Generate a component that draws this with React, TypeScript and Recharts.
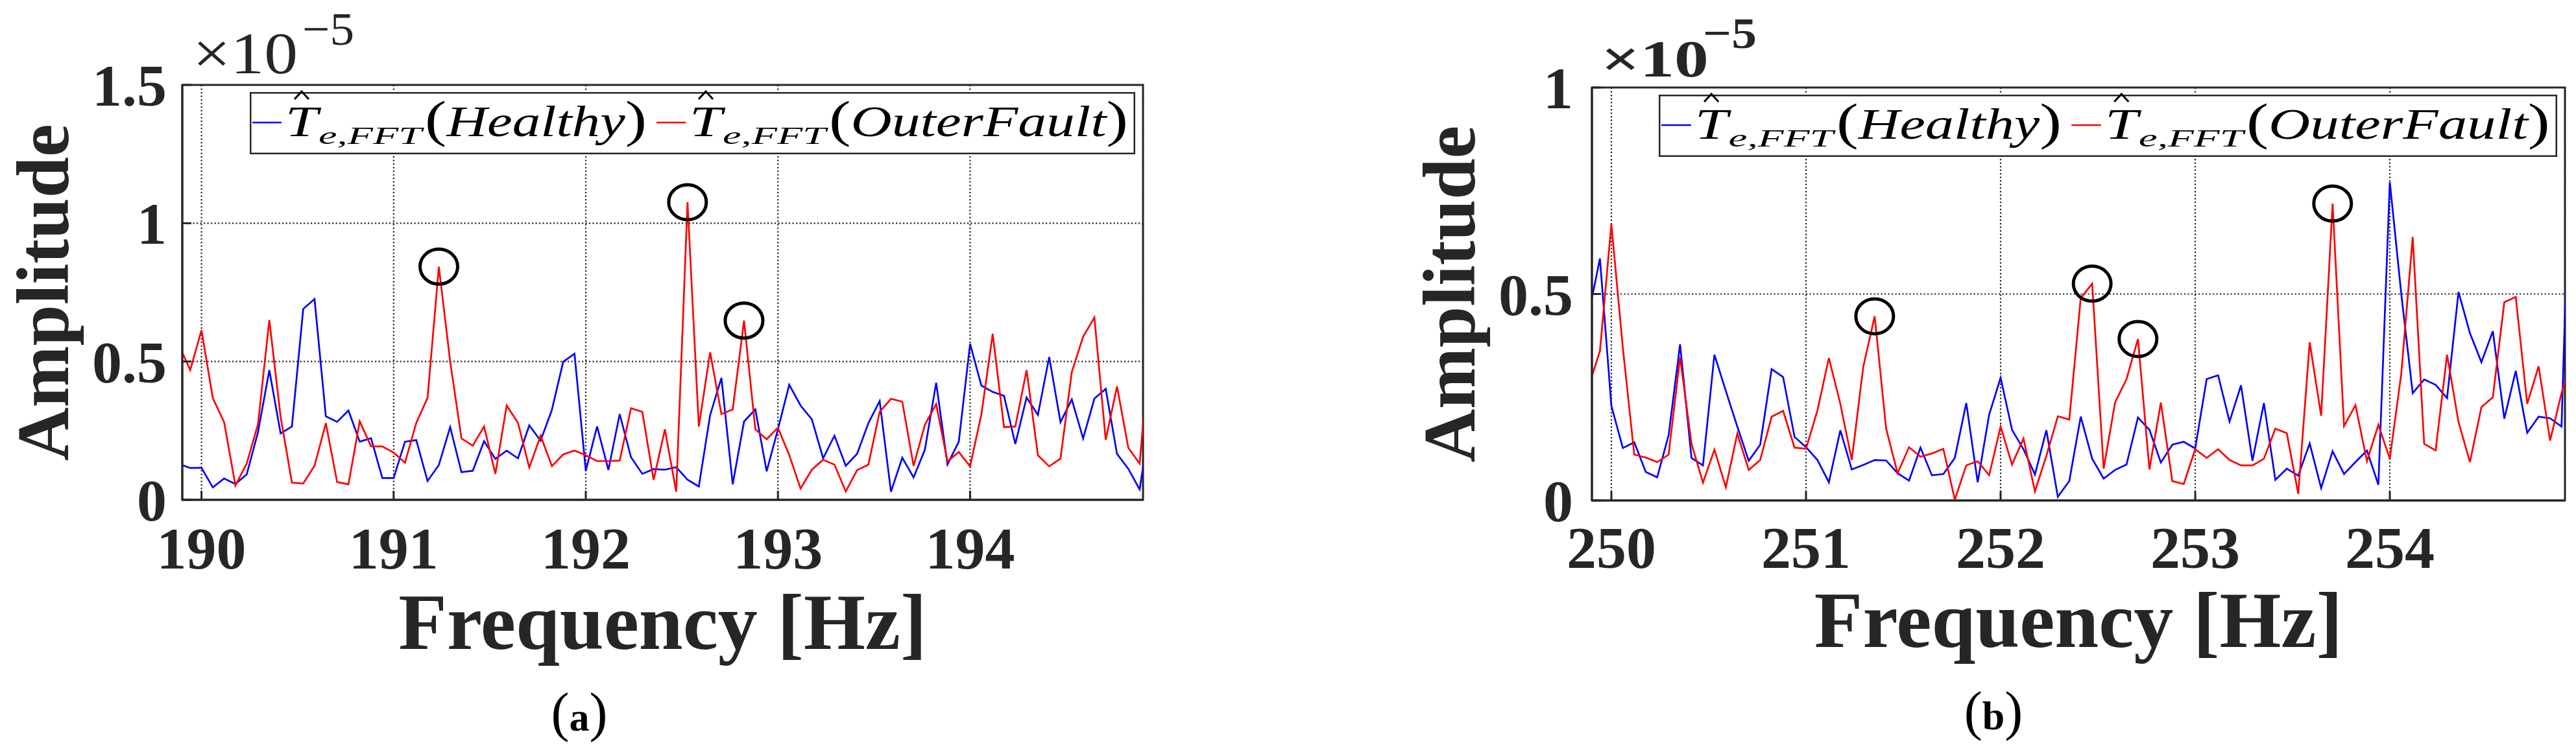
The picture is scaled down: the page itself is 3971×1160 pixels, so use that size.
import {
  LineChart,
  Line,
  XAxis,
  YAxis,
  CartesianGrid,
  Legend,
  ReferenceDot,
  ReferenceArea,
} from 'recharts';

// FFT bin spacing (17 bins per Hz)
const BIN_HZ = 1 / 17;

// Panel (a): bins start two bins left of 190 Hz (clipped by the axis)
const FIRST_BIN_A = 190 - 2 / 17;
const X_TICKS_A = [190, 191, 192, 193, 194];
const Y_TICKS_A = [0, 0.5, 1, 1.5];
const HEALTHY_A = [
  0.13, 0.115, 0.116, 0.045, 0.077, 0.057, 0.092, 0.245, 0.469, 0.24,
  0.265, 0.69, 0.726, 0.302, 0.282, 0.323, 0.21, 0.223, 0.079, 0.079,
  0.21, 0.216, 0.068, 0.126, 0.263, 0.1, 0.105, 0.212, 0.148, 0.178,
  0.15, 0.269, 0.214, 0.325, 0.499, 0.528, 0.105, 0.265, 0.108, 0.31,
  0.154, 0.094, 0.111, 0.109, 0.118, 0.073, 0.048, 0.306, 0.441, 0.056,
  0.283, 0.327, 0.103, 0.255, 0.416, 0.341, 0.291, 0.15, 0.232, 0.123,
  0.166, 0.277, 0.357, 0.029, 0.152, 0.081, 0.181, 0.423, 0.128, 0.21,
  0.564, 0.413, 0.39, 0.376, 0.202, 0.37, 0.307, 0.516, 0.281, 0.363,
  0.222, 0.366, 0.401, 0.166, 0.112, 0.038, 0.3,
];
const FAULT_A = [
  0.56, 0.469, 0.613, 0.368, 0.281, 0.052, 0.131, 0.274, 0.65, 0.3,
  0.062, 0.059, 0.123, 0.277, 0.064, 0.056, 0.284, 0.193, 0.193, 0.171,
  0.134, 0.278, 0.369, 0.843, 0.5, 0.222, 0.196, 0.265, 0.094, 0.341,
  0.278, 0.117, 0.232, 0.122, 0.164, 0.178, 0.161, 0.14, 0.14, 0.142,
  0.331, 0.318, 0.072, 0.255, 0.029, 1.076, 0.265, 0.533, 0.31, 0.327,
  0.648, 0.255, 0.219, 0.261, 0.162, 0.041, 0.109, 0.145, 0.127, 0.03,
  0.107, 0.127, 0.318, 0.365, 0.355, 0.123, 0.271, 0.346, 0.139, 0.173,
  0.121, 0.309, 0.6, 0.263, 0.265, 0.469, 0.161, 0.121, 0.149, 0.462,
  0.59, 0.659, 0.217, 0.41, 0.188, 0.131, 0.6,
];
// indices of the circled fault peaks
const PEAKS_A = [23, 45, 50];

// Panel (b)
const FIRST_BIN_B = 250 - 2 / 17;
const X_TICKS_B = [250, 251, 252, 253, 254];
const Y_TICKS_B = [0, 0.5, 1];
const HEALTHY_B = [
  0.449, 0.586, 0.229, 0.127, 0.141, 0.069, 0.056, 0.158, 0.378, 0.103,
  0.085, 0.353, 0.265, 0.179, 0.096, 0.135, 0.318, 0.299, 0.154, 0.129,
  0.098, 0.044, 0.17, 0.075, 0.086, 0.098, 0.097, 0.066, 0.048, 0.128,
  0.061, 0.064, 0.103, 0.236, 0.044, 0.208, 0.297, 0.171, 0.124, 0.063,
  0.17, 0.009, 0.047, 0.203, 0.101, 0.053, 0.074, 0.087, 0.201, 0.171,
  0.092, 0.135, 0.142, 0.126, 0.294, 0.303, 0.191, 0.279, 0.096, 0.236,
  0.05, 0.077, 0.06, 0.138, 0.03, 0.119, 0.064, 0.093, 0.121, 0.038,
  0.771, 0.5, 0.26, 0.293, 0.28, 0.248, 0.505, 0.405, 0.335, 0.41,
  0.198, 0.314, 0.164, 0.203, 0.199, 0.179, 1.1,
];
const FAULT_B = [
  0.275, 0.362, 0.669, 0.37, 0.111, 0.104, 0.093, 0.111, 0.347, 0.137,
  0.043, 0.123, 0.032, 0.162, 0.074, 0.098, 0.203, 0.217, 0.128, 0.125,
  0.218, 0.345, 0.234, 0.098, 0.323, 0.446, 0.174, 0.066, 0.129, 0.106,
  0.114, 0.125, 0.002, 0.085, 0.095, 0.061, 0.179, 0.087, 0.15, 0.022,
  0.108, 0.204, 0.196, 0.49, 0.525, 0.077, 0.237, 0.294, 0.391, 0.075,
  0.237, 0.047, 0.04, 0.124, 0.103, 0.124, 0.098, 0.085, 0.085, 0.101,
  0.174, 0.163, 0.016, 0.383, 0.205, 0.719, 0.18, 0.231, 0.095, 0.183,
  0.101, 0.307, 0.638, 0.137, 0.121, 0.353, 0.19, 0.093, 0.226, 0.25,
  0.48, 0.493, 0.234, 0.325, 0.145, 0.26, 0.35,
];
const PEAKS_B = [25, 44, 48, 65];

const SERIF = "'Liberation Serif', 'Times New Roman', serif";
const INK = '#262626';
const H = 1160;
const TICK_LEN = 14;

// legend layout, measured on panel (a) (box width 1365)
const LEG_H = 96;
const NAME_WIDTH: Record<string, number> = { Healthy: 342, OuterFault: 461 };

const makeLegend = (w: number) => (props: any) => {
  const items = props.payload ?? [];
  const s = w / 1365;
  return (
    <svg width={w} height={LEG_H} style={{ display: 'block', overflow: 'visible' }}>
      <rect x={1.25} y={1.25} width={w - 2.5} height={LEG_H - 2.5} fill="#fff" stroke={INK} strokeWidth={2.5} />
      {items.map((it: any, i: number) => {
        const o = i * 623 * s;
        const hx = o + 80 * s;
        return (
          <g key={it.value} fontFamily={SERIF} fill="#000">
            <line x1={o + 4 * s} x2={o + 49 * s} y1={47} y2={47} stroke={it.color} strokeWidth={2.6} />
            <text x={o + 55 * s} y={68} fontSize={68} fontStyle="italic" textLength={50 * s} lengthAdjust="spacingAndGlyphs">T</text>
            {/* the hat over T */}
            <polyline points={`${hx - 11},11 ${hx},-1 ${hx + 11},11`} fill="none" stroke="#000" strokeWidth={3} />
            <text x={o + 106 * s} y={80} fontSize={38} fontStyle="italic" textLength={159 * s} lengthAdjust="spacingAndGlyphs">e,FFT</text>
            <text x={o + 270 * s} y={68} fontSize={68} fontStyle="italic" textLength={(NAME_WIDTH[it.value] ?? 342) * s} lengthAdjust="spacingAndGlyphs">
              <tspan fontStyle="normal" fontSize={78}>(</tspan>{it.value}<tspan fontStyle="normal" fontSize={78}>)</tspan>
            </text>
          </g>
        );
      })}
    </svg>
  );
};

interface PanelCfg {
  left: number;
  width: number;
  plotL: number;
  plotR: number;
  plotT: number;
  plotB: number;
  firstBin: number;
  xTicks: number[];
  yTicks: number[];
  healthy: number[];
  fault: number[];
  peaks: number[];
  yLabelX: number;
  xLabelY: number;
  yTickGap: number;
  xTickBase: number;
  legend: { left: number; top: number; width: number };
  expo: { dx: number; dy: number; size: number; len: number; sdx: number; sdy: number; ssize: number; slen: number; bold: boolean };
  caption: { text: string; x: number; y: number };
}

const PANEL_A: PanelCfg = {
  left: 0, width: 1900, plotL: 281, plotR: 1762, plotT: 131, plotB: 771,
  firstBin: FIRST_BIN_A, xTicks: X_TICKS_A, yTicks: Y_TICKS_A,
  healthy: HEALTHY_A, fault: FAULT_A, peaks: PEAKS_A,
  yLabelX: 105, xLabelY: 1001, yTickGap: 24, xTickBase: 877,
  legend: { left: 385, top: 142, width: 1365 },
  expo: { dx: 16, dy: -18, size: 92, len: 162, sdx: 185, sdy: -62, ssize: 72, slen: 80, bold: false },
  caption: { text: 'a', x: 893, y: 1127 },
};

const PANEL_B: PanelCfg = {
  left: 1985, width: 1986, plotL: 469, plotR: 1969, plotT: 135, plotB: 772,
  firstBin: FIRST_BIN_B, xTicks: X_TICKS_B, yTicks: Y_TICKS_B,
  healthy: HEALTHY_B, fault: FAULT_B, peaks: PEAKS_B,
  yLabelX: 288, xLabelY: 998, yTickGap: 29, xTickBase: 876,
  legend: { left: 572, top: 146, width: 1385 },
  expo: { dx: 14, dy: -17, size: 80, len: 166, sdx: 171, sdy: -61, ssize: 68, slen: 83, bold: true },
  caption: { text: 'b', x: 1088, y: 1125 },
};

function Panel({ cfg }: { cfg: PanelCfg }) {
  const data = cfg.fault.map((v, i) => ({
    f: cfg.firstBin + i * BIN_HZ,
    healthy: cfg.healthy[i],
    fault: v,
  }));
  const xDomain = [cfg.xTicks[0] - 0.1, cfg.xTicks[cfg.xTicks.length - 1] + 0.9];
  const yDomain = [0, cfg.yTicks[cfg.yTicks.length - 1]];
  const axisStyle = { stroke: INK, strokeWidth: 3 };
  const plotMidX = (cfg.plotL + cfg.plotR) / 2;
  const plotMidY = (cfg.plotT + cfg.plotB) / 2;
  const e = cfg.expo;

  return (
    <div style={{ position: 'absolute', left: cfg.left, top: 0, width: cfg.width, height: H }}>
      <LineChart
        width={cfg.width}
        height={H}
        data={data}
        margin={{ top: cfg.plotT, right: cfg.width - cfg.plotR, bottom: 0, left: 0 }}
      >
        <CartesianGrid stroke="#222" strokeWidth={2.2} strokeDasharray="2.2 3.3" />
        <XAxis
          dataKey="f"
          type="number"
          domain={xDomain}
          allowDataOverflow
          ticks={cfg.xTicks}
          height={H - cfg.plotB}
          tickSize={-TICK_LEN}
          tickMargin={cfg.xTickBase - (cfg.plotB - TICK_LEN)}
          axisLine={axisStyle}
          tickLine={axisStyle}
          tick={(p: any) => (
            <text x={p.x} y={p.y} textAnchor="middle" fontFamily={SERIF} fontWeight="bold" fontSize={92} fill={INK}>
              {String(p.payload.value)}
            </text>
          )}
          label={{
            content: () => (
              <text x={plotMidX} y={cfg.xLabelY} textAnchor="middle" fontFamily={SERIF} fontWeight="bold" fontSize={122} fill={INK}>
                Frequency [Hz]
              </text>
            ),
          }}
        />
        <XAxis
          xAxisId="top"
          orientation="top"
          dataKey="f"
          type="number"
          domain={xDomain}
          allowDataOverflow
          ticks={cfg.xTicks}
          height={0}
          tickSize={-TICK_LEN}
          axisLine={axisStyle}
          tickLine={axisStyle}
          tick={false}
        />
        <YAxis
          type="number"
          domain={yDomain}
          allowDataOverflow
          ticks={cfg.yTicks}
          width={cfg.plotL}
          tickSize={-TICK_LEN}
          tickMargin={TICK_LEN + cfg.yTickGap}
          axisLine={axisStyle}
          tickLine={axisStyle}
          tick={(p: any) => (
            <text x={p.x} y={p.y} dy={32} textAnchor="end" fontFamily={SERIF} fontWeight="bold" fontSize={92} fill={INK}>
              {String(p.payload.value)}
            </text>
          )}
          label={{
            content: () => (
              <text
                x={cfg.yLabelX}
                y={plotMidY}
                transform={`rotate(-90, ${cfg.yLabelX}, ${plotMidY})`}
                textAnchor="middle"
                fontFamily={SERIF}
                fontWeight="bold"
                fontSize={114}
                fill={INK}
              >
                Amplitude
              </text>
            ),
          }}
        />
        <YAxis
          yAxisId="right"
          orientation="right"
          type="number"
          domain={yDomain}
          allowDataOverflow
          ticks={cfg.yTicks}
          width={0}
          tickSize={-TICK_LEN}
          axisLine={axisStyle}
          tickLine={axisStyle}
          tick={false}
        />
        <Line
          dataKey="healthy"
          name="Healthy"
          type="linear"
          stroke="#0000ff"
          strokeWidth={2.7}
          dot={false}
          activeDot={false}
          isAnimationActive={false}
        />
        <Line
          dataKey="fault"
          name="OuterFault"
          type="linear"
          stroke="#ff0000"
          strokeWidth={2.7}
          dot={false}
          activeDot={false}
          isAnimationActive={false}
        />
        {/* the plot box */}
        <ReferenceArea
          x1={xDomain[0]}
          x2={xDomain[1]}
          y1={yDomain[0]}
          y2={yDomain[1]}
          fill="none"
          fillOpacity={0}
          stroke={INK}
          strokeWidth={3}
          ifOverflow="visible"
        />
        {cfg.peaks.map((i) => (
          <ReferenceDot
            key={i}
            x={data[i].f}
            y={data[i].fault}
            r={28}
            ifOverflow="visible"
            shape={(p: any) => (
              <ellipse cx={p.cx} cy={p.cy} rx={29} ry={27} fill="none" stroke="#000" strokeWidth={5} />
            )}
          />
        ))}
        <Legend
          layout="horizontal"
          verticalAlign="middle"
          align="center"
          width={cfg.legend.width}
          height={LEG_H}
          wrapperStyle={{ left: cfg.legend.left, top: cfg.legend.top, width: cfg.legend.width, height: LEG_H }}
          content={makeLegend(cfg.legend.width)}
        />
      </LineChart>
      {/* exponent label and sub-figure caption */}
      <svg width={cfg.width} height={H} style={{ position: 'absolute', left: 0, top: 0, pointerEvents: 'none' }}>
        <g fontFamily={SERIF} fill={INK} fontWeight={e.bold ? 'bold' : 'normal'}>
          <text x={cfg.plotL + e.dx} y={cfg.plotT + e.dy} fontSize={e.size} textLength={e.len} lengthAdjust="spacingAndGlyphs">
            ×10
          </text>
          <text x={cfg.plotL + e.sdx} y={cfg.plotT + e.sdy} fontSize={e.ssize} textLength={e.slen} lengthAdjust="spacingAndGlyphs">
            −5
          </text>
        </g>
        <text x={cfg.caption.x} y={cfg.caption.y} textAnchor="middle" fontFamily={SERIF} fill="#000">
          <tspan fontSize={84}>(</tspan>
          <tspan fontSize={62} fontWeight="bold">{cfg.caption.text}</tspan>
          <tspan fontSize={84}>)</tspan>
        </text>
      </svg>
    </div>
  );
}

export default function App() {
  return (
    <div style={{ position: 'absolute', left: 0, top: 0, width: 3971, height: H, background: '#fff' }}>
      <Panel cfg={PANEL_A} />
      <Panel cfg={PANEL_B} />
    </div>
  );
}
